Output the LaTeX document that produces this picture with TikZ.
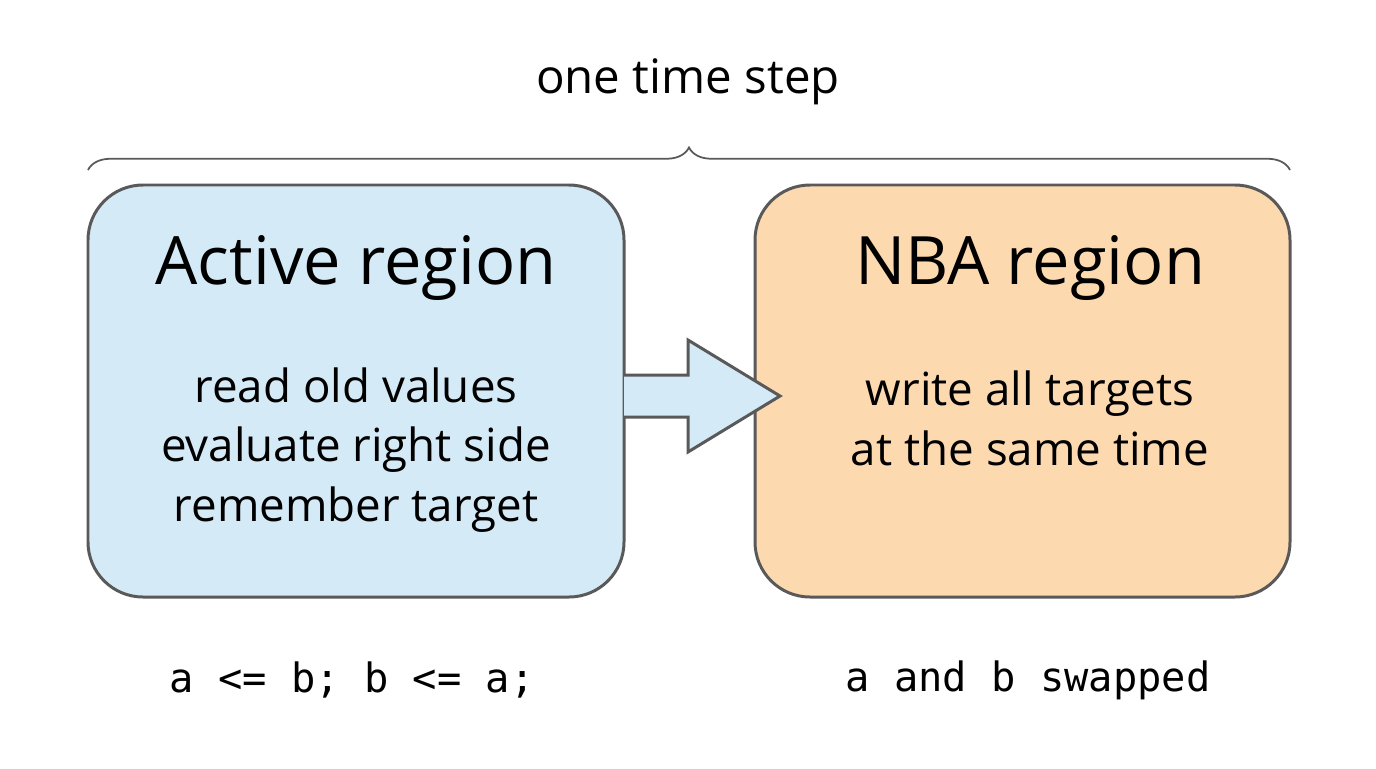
\documentclass[tikz,border=0pt]{standalone}
\usepackage{fontspec}
\setmainfont{Open Sans}
\newfontfamily\monof{DejaVu Sans Mono}
\usetikzlibrary{decorations.pathreplacing}
\begin{document}
\begin{tikzpicture}[x=0.02cm,y=-0.02cm,
  box/.style={draw=black!65,line width=1.7pt,rounded corners=1.1cm},
  title/.style={font=\fontsize{38}{44}\selectfont},
  body/.style={font=\fontsize{26}{34}\selectfont,align=center},
  code/.style={font=\monof\fontsize{23}{28}\selectfont}]
\useasboundingbox (0,0) rectangle (1376,768);
\draw[box,fill={rgb,255:red,212;green,234;blue,246}] (88,185) rectangle (624,597);
\draw[box,fill={rgb,255:red,253;green,217;blue,176}] (755,185) rectangle (1290,597);
\node[title] (at) at (356,268) {Active region};
\node[title] (nt) at (1030,268) {NBA region};
\node[body] (ab) at (356,450) {read old values\\evaluate right side\\remember target};
\node[body] (nb) at (1030,418) {write all targets\\at the same time};
\draw[line width=1.7pt,draw=black!65,fill={rgb,255:red,212;green,234;blue,246},line join=miter]
  (624,375) -- (688,375) -- (688,340) -- (780,396) -- (688,452) -- (688,417) -- (624,417);
\draw[draw=black!65,line width=1pt,decorate,decoration={brace,amplitude=0.45cm,aspect=0.5}]
  (88,170) -- (1290,170);
\node[font=\fontsize{27}{32}\selectfont] (ts) at (688,82) {one time step};
\node[code] (c1) at (352,680) {a <= b; b <= a;};
\node[code] (c2) at (1028,680) {a and b swapped};
\end{tikzpicture}
\end{document}
